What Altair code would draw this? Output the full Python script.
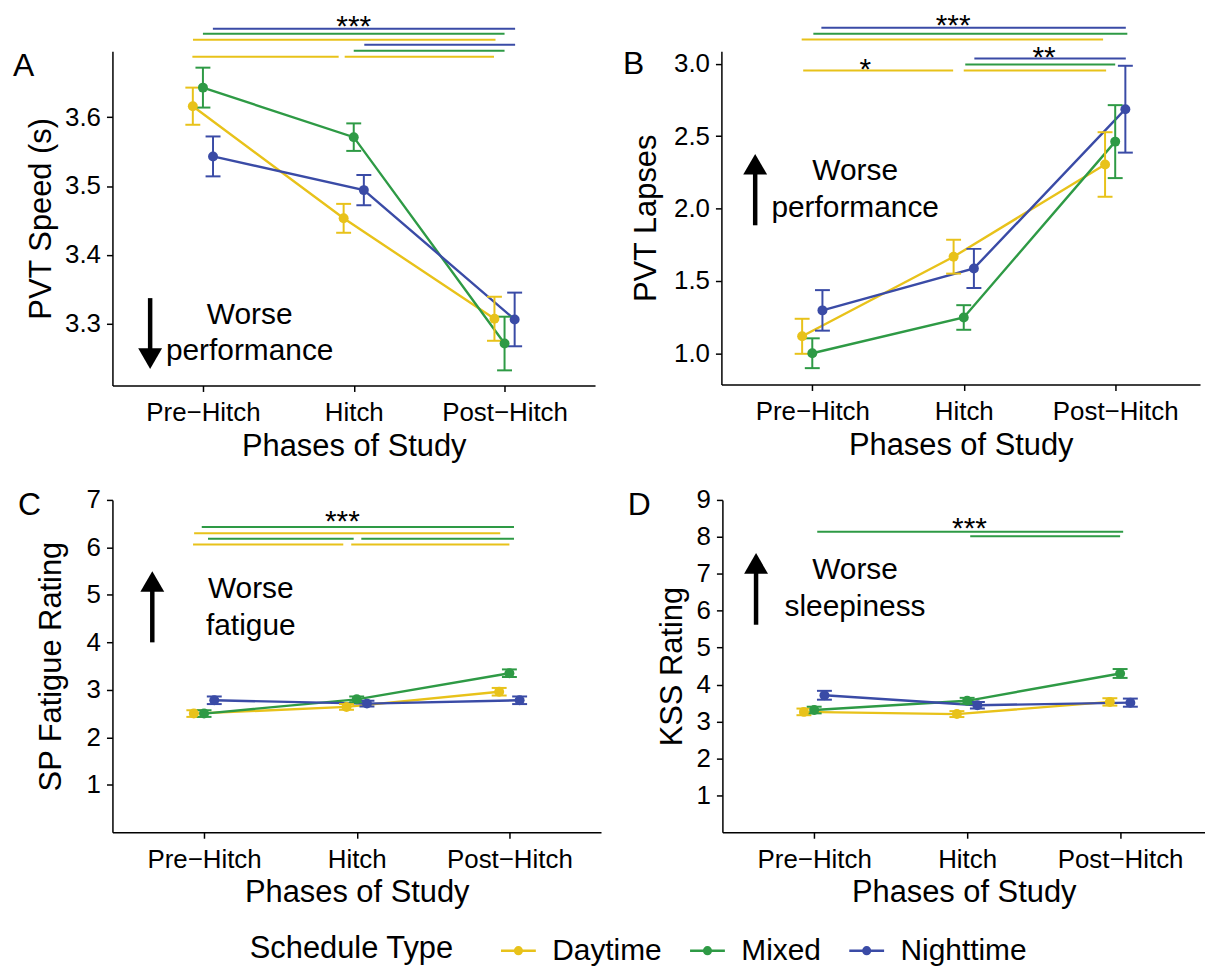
import json
import altair as alt
import pandas as pd

FONT = "Liberation Sans"

PHASES = ["Pre−Hitch", "Hitch", "Post−Hitch"]
GROUPS = ["Daytime", "Mixed", "Nighttime"]
COLORS = ["#E8C21A", "#2E9A45", "#3A4BA6"]
DODGE = [-0.067, 0.0, 0.067]          # position_dodge(0.2) for three groups

# ---- A: PVT speed (s) ----
speed_mean = {"Daytime": [3.616, 3.453, 3.307],
              "Mixed": [3.643, 3.571, 3.271],
              "Nighttime": [3.543, 3.494, 3.306]}
speed_err = {"Daytime": [0.027, 0.021, 0.032],
             "Mixed": [0.029, 0.020, 0.039],
             "Nighttime": [0.029, 0.022, 0.039]}
speed_sig = [("Nighttime", 0.066, 2.07, 3.7286), ("Mixed", 0.0, 2.0, 3.7213),
             ("Daytime", -0.066, 1.94, 3.7126), ("Nighttime", 1.07, 2.07, 3.7054),
             ("Mixed", 1.0, 2.0, 3.6967), ("Daytime", -0.07, 0.9, 3.688),
             ("Daytime", 0.94, 1.93, 3.688)]
speed_stars = [("***", 1.0, 3.718)]

# ---- B: PVT lapses ----
lapse_mean = {"Daytime": [1.117, 1.667, 2.304],
              "Mixed": [1.0, 1.247, 2.462],
              "Nighttime": [1.296, 1.586, 2.686]}
lapse_err = {"Daytime": [0.121, 0.117, 0.223],
             "Mixed": [0.103, 0.085, 0.252],
             "Nighttime": [0.140, 0.135, 0.300]}
lapse_sig = [("Nighttime", 0.06, 2.07, 3.249), ("Mixed", 0.007, 2.08, 3.208),
             ("Daytime", -0.07, 1.92, 3.167), ("Nighttime", 1.07, 2.07, 3.036),
             ("Mixed", 1.01, 2.0, 2.995), ("Daytime", 1.0, 1.94, 2.954),
             ("Daytime", -0.06, 0.93, 2.954)]
lapse_stars = [("***", 0.93, 3.199), ("**", 1.53, 2.979), ("*", 0.35, 2.896)]

# ---- C: SP fatigue rating ----
fatigue_mean = {"Daytime": [2.50, 2.64, 2.96],
                "Mixed": [2.50, 2.80, 3.35],
                "Nighttime": [2.78, 2.71, 2.78]}
fatigue_err = {"Daytime": [0.07, 0.06, 0.08],
               "Mixed": [0.07, 0.06, 0.08],
               "Nighttime": [0.08, 0.06, 0.08]}
fatigue_sig = [("Mixed", -0.015, 2.03, 6.43), ("Daytime", -0.065, 1.94, 6.30),
               ("Mixed", 0.026, 0.98, 6.18), ("Mixed", 1.03, 2.03, 6.18),
               ("Daytime", -0.072, 0.912, 6.06), ("Daytime", 0.964, 2.0, 6.06)]
fatigue_stars = [("***", 0.906, 6.348)]

# ---- D: KSS rating ----
kss_mean = {"Daytime": [3.26, 3.20, 3.53],
            "Mixed": [3.31, 3.56, 4.30],
            "Nighttime": [3.71, 3.44, 3.51]}
kss_err = {"Daytime": [0.09, 0.08, 0.10],
           "Mixed": [0.09, 0.08, 0.12],
           "Nighttime": [0.12, 0.09, 0.11]}
kss_sig = [("Mixed", 0.02, 2.02, 8.135), ("Mixed", 1.02, 2.0, 8.016)]
kss_stars = [("***", 1.015, 7.97)]

# direction-of-worse annotations: arrow (x, tail, tip) and note (x, first baseline, text)
speed_arrow = (-0.35, 3.337, 3.234)
speed_note = (0.31, 3.300, "Worse\nperformance")
lapse_arrow = (-0.377, 1.884, 2.377)
lapse_note = (0.283, 2.195, "Worse\nperformance")
fatigue_arrow = (-0.339, 4.0, 5.5)
fatigue_note = (0.306, 4.937, "Worse\nfatigue")
kss_arrow = (-0.38, 5.62, 7.56)
kss_note = (0.267, 6.854, "Worse\nsleepiness")

LABEL_EXPR = json.dumps(PHASES, ensure_ascii=False) + "[round(datum.value)]"

# legend key: a short line with a dot on it
KEY_PATH = ("M-1,0L1,0"
            "M-0.19,0a0.19,0.19 0 1,0 0.38,0a0.19,0.19 0 1,0 -0.38,0"
            "M-0.09,0a0.09,0.09 0 1,0 0.18,0a0.09,0.09 0 1,0 -0.18,0")

COLOR_SCALE = alt.Scale(domain=GROUPS, range=COLORS)


def color_enc(legend=alt.Undefined):
    return alt.Color("group:N", scale=COLOR_SCALE, legend=legend)


def make_panel(mean, err, sig, stars, arrow, note, tag, tag_pos, ytitle, ydomain,
               yticks, yfmt, xdomain, width, height, title_pad, legend=alt.Undefined):
    rows = []
    for gi, g in enumerate(GROUPS):
        for pi, p in enumerate(PHASES):
            m, e = mean[g][pi], err[g][pi]
            rows.append({"group": g, "phase": p, "x": pi + DODGE[gi],
                         "mean": m, "lo": m - e, "hi": m + e})
    pts = pd.DataFrame(rows)
    sig_df = pd.DataFrame(sig, columns=["group", "x", "x2", "y"])
    star_df = pd.DataFrame(stars, columns=["label", "x", "y"])
    arrow_df = pd.DataFrame([arrow], columns=["x", "tail", "tip"])
    note_df = pd.DataFrame([note], columns=["x", "y", "label"])
    tag_df = pd.DataFrame({"label": [tag]})

    xaxis = alt.Axis(values=[0, 1, 2], labelExpr=LABEL_EXPR, title="Phases of Study",
                     labelPadding=8, titlePadding=6)
    yaxis = alt.Axis(values=yticks, format=yfmt, title=ytitle, labelPadding=6,
                     titlePadding=title_pad)
    xs = alt.Scale(domain=xdomain, nice=False, zero=False)
    ys = alt.Scale(domain=ydomain, nice=False, zero=False)

    def X(f):
        return alt.X(f"{f}:Q", scale=xs, axis=xaxis)

    def Y(f):
        return alt.Y(f"{f}:Q", scale=ys, axis=yaxis)

    up = arrow[2] > arrow[1]

    sig_layer = alt.Chart(sig_df).mark_rule(strokeWidth=2, opacity=1).encode(
        x=X("x"), x2="x2", y=Y("y"), color=color_enc())
    star_layer = alt.Chart(star_df).mark_text(
        font=FONT, fontSize=30, baseline="alphabetic", align="center", color="black"
    ).encode(x=X("x"), y=Y("y"), text="label:N")
    shaft = alt.Chart(arrow_df).mark_rule(
        strokeWidth=4.5, color="black", y2Offset=12 if up else -12
    ).encode(x=X("x"), y=Y("tail"), y2="tip")
    head = alt.Chart(arrow_df).mark_point(
        shape="triangle-up" if up else "triangle-down", filled=True, size=576,
        color="black", opacity=1, yOffset=10.4 if up else -10.4
    ).encode(x=X("x"), y=Y("tip"))
    note_layer = alt.Chart(note_df).mark_text(
        font=FONT, fontSize=30, lineBreak="\n", lineHeight=37, align="center",
        baseline="alphabetic", color="black"
    ).encode(x=X("x"), y=Y("y"), text="label:N")
    tag_layer = alt.Chart(tag_df).mark_text(
        font=FONT, fontSize=32, align="left", baseline="top", color="black"
    ).encode(x=alt.value(tag_pos[0]), y=alt.value(tag_pos[1]), text="label:N")

    base = alt.Chart(pts)
    bars = base.mark_rule(strokeWidth=2, opacity=1).encode(
        x=X("x"), y=Y("lo"), y2="hi", color=color_enc())
    cap_lo = base.mark_tick(orient="horizontal", size=15, thickness=2, opacity=1).encode(
        x=X("x"), y=Y("lo"), color=color_enc())
    cap_hi = base.mark_tick(orient="horizontal", size=15, thickness=2, opacity=1).encode(
        x=X("x"), y=Y("hi"), color=color_enc())
    lines = base.mark_line(strokeWidth=2.4, opacity=1).encode(
        x=X("x"), y=Y("mean"), color=color_enc(legend), order="x:Q")
    points = base.mark_point(filled=True, size=100, opacity=1).encode(
        x=X("x"), y=Y("mean"), color=color_enc())

    return alt.layer(lines, sig_layer, star_layer, shaft, head, note_layer, tag_layer,
                     bars, cap_lo, cap_hi, points).properties(width=width, height=height)


legend = alt.Legend(
    title="Schedule Type", orient="none", legendX=138, legendY=885,
    direction="horizontal", titleOrient="left", titleFont=FONT, titleFontSize=31,
    titleFontWeight="normal", titleColor="black", titlePadding=45, titleLimit=500,
    labelFont=FONT, labelFontSize=30, labelColor="black", labelOffset=15, labelLimit=300,
    columnPadding=22, symbolType=KEY_PATH, symbolSize=1225, symbolStrokeWidth=2.5,
    symbolOpacity=1,
)

panel_a = make_panel(speed_mean, speed_err, speed_sig, speed_stars, speed_arrow, speed_note,
                     "A", (-100, 0), "PVT Speed (s)", [3.21, 3.696], [3.3, 3.4, 3.5, 3.6],
                     ".1f", [-0.6, 2.6], 485, 336, 7, legend)
panel_b = make_panel(lapse_mean, lapse_err, lapse_sig, lapse_stars, lapse_arrow, lapse_note,
                     "B", (-99, -2), "PVT Lapses", [0.784, 3.087], [1.0, 1.5, 2.0, 2.5, 3.0],
                     ".1f", [-0.6, 2.56], 481, 335, 11)
panel_c = make_panel(fatigue_mean, fatigue_err, fatigue_sig, fatigue_stars, fatigue_arrow,
                     fatigue_note, "C", (-95, -10), "SP Fatigue Rating", [0, 7],
                     [1, 2, 3, 4, 5, 6, 7], "d", [-0.6, 2.6], 491, 334, 19)
panel_d = make_panel(kss_mean, kss_err, kss_sig, kss_stars, kss_arrow, kss_note,
                     "D", (-95, -10), "KSS Rating", [0, 9], [1, 2, 3, 4, 5, 6, 7, 8, 9],
                     "d", [-0.6, 2.555], 485, 334, 8)

chart = alt.vconcat(
    alt.hconcat(panel_a, panel_b, spacing=28),
    alt.hconcat(panel_c, panel_d, spacing=27),
    spacing=26,
).properties(
    padding={"left": 13, "top": 8, "right": 0, "bottom": 0}
).configure(
    font=FONT
).configure_view(
    stroke=None
).configure_axis(
    grid=False, domainColor="black", domainWidth=1.5, tickColor="black", tickWidth=1.5,
    tickSize=6, labelColor="black", titleColor="black", labelFont=FONT, titleFont=FONT,
    labelFontSize=26, titleFontSize=31, titleFontWeight="normal",
)

chart.save("out.html", embed_options={"renderer": "svg", "actions": False})
